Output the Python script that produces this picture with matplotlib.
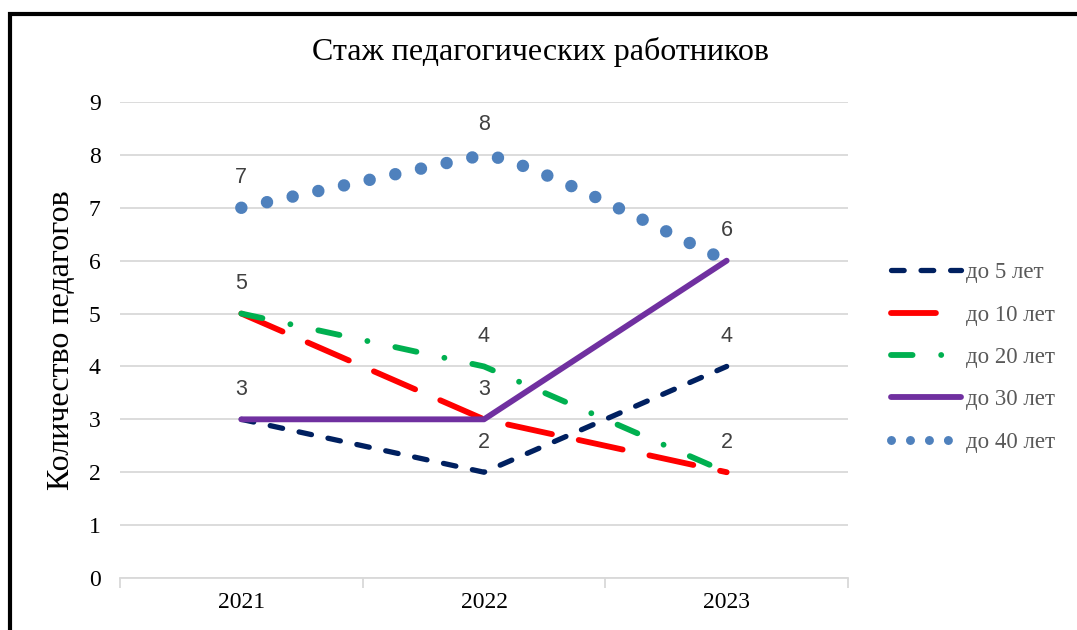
import matplotlib
matplotlib.use("Agg")
import matplotlib.pyplot as plt
from matplotlib.path import Path
from matplotlib.patches import PathPatch, Rectangle
from matplotlib.lines import Line2D

years = ["2021", "2022", "2023"]
series_names = ["до 5 лет", "до 10 лет", "до 20 лет", "до 30 лет", "до 40 лет"]
s5 = [3, 2, 4]
s10 = [5, 3, 2]
s20 = [5, 4, 2]
s30 = [3, 3, 6]
s40 = [7, 8, 6]
title = "Стаж педагогических работников"
ylabel = "Количество педагогов"
yticks = list(range(0, 10))

W, H = 1077, 630
fig = plt.figure(figsize=(W / 100, H / 100), dpi=100)
ax = fig.add_axes([120 / W, 1 - 578 / H, (848 - 120) / W, (578 - 102) / H])

serif = "Liberation Serif"
sans = "Liberation Sans"
x = list(range(len(years)))

styles = [
    dict(color="#002060", lw=3.8, ls=(0, (2.4, 3.2))),
    dict(color="#FF0000", lw=4.2, ls=(0, (7.7, 4.7))),
    dict(color="#00B050", lw=4.2, ls=(0, (3.7, 4.9, 0.01, 4.9))),
    dict(color="#7030A0", lw=4.2, ls="-"),
]
data = [s5, s10, s20, s30]
for vals, st in zip(data, styles):
    ax.plot(x, vals, color=st["color"], lw=st["lw"], linestyle=st["ls"],
            dash_capstyle="round", solid_capstyle="round", solid_joinstyle="round",
            zorder=3)

# smoothed line for s40 (Bezier through the data points)
pts = [(xi, yi) for xi, yi in zip(x, s40)]
verts = [pts[0]]
codes = [Path.MOVETO]
n = len(pts)
for i in range(n - 1):
    p0 = pts[i - 1] if i > 0 else pts[i]
    p1 = pts[i]
    p2 = pts[i + 1]
    p3 = pts[i + 2] if i + 2 < n else pts[i + 1]
    if i == 0:
        c1 = (p1[0] + (p2[0] - p1[0]) / 3, p1[1] + (p2[1] - p1[1]) / 3)
        c2 = (p2[0] - (p2[0] - p1[0]) / 3, p2[1] - (p2[1] - p1[1]) / 3)
    else:
        c1 = (p1[0] + (p2[0] - p0[0]) / 10, p1[1] + (p2[1] - p0[1]) / 10)
        c2 = (p2[0] - (p3[0] - p1[0]) / 6, p2[1] - (p3[1] - p1[1]) / 6)
    verts += [c1, c2, p2]
    codes += [Path.CURVE4] * 3
patch = PathPatch(Path(verts, codes), facecolor="none", edgecolor="#4F81BD",
                  lw=9.0, linestyle=(0, (0.001, 2.1)), capstyle="round", zorder=4)
ax.add_patch(patch)

# data labels (one per distinct value at each year)
for i in x:
    seen = set()
    for vals in [s5, s10, s20, s30, s40]:
        v = vals[i]
        if v in seen:
            continue
        seen.add(v)
        ax.annotate(str(v), (i, v), xytext=(0, 14), textcoords="offset points",
                    ha="center", va="bottom", fontsize=15.5, color="#404040",
                    family=sans, zorder=5)

ax.set_xlim(-0.5, len(years) - 0.5)
ax.set_ylim(0, 9)
ax.set_yticks(yticks)
ax.set_yticklabels([str(t) for t in yticks], family=serif, fontsize=17, color="#000000")
ax.set_xticks(x)
ax.set_xticklabels(years, family=serif, fontsize=17, color="#000000")
ax.set_xticks([-0.5, 0.5, 1.5, 2.5], minor=True)
ax.tick_params(axis="x", which="major", length=0, pad=10)
ax.tick_params(axis="x", which="minor", length=7, color="#D9D9D9", width=1.3)
ax.tick_params(axis="y", length=0, pad=14)
for s in ["top", "right", "left"]:
    ax.spines[s].set_visible(False)
ax.spines["bottom"].set_color("#D9D9D9")
ax.spines["bottom"].set_linewidth(1.3)
ax.grid(axis="y", color="#D9D9D9", lw=1.3)
ax.set_axisbelow(True)

fig.text(62 / W, 1 - 340 / H, ylabel, family=serif, fontsize=23, color="#000000",
         rotation=90, ha="center", va="center")
fig.text(541 / W, 1 - 52 / H, title, family=serif, fontsize=23, ha="center", va="center")

handles = []
for st in styles:
    handles.append(Line2D([], [], color=st["color"], lw=st["lw"], linestyle=st["ls"],
                          dash_capstyle="round", solid_capstyle="round"))
handles.append(Line2D([], [], color="#4F81BD", lw=6.5, linestyle=(0, (0.001, 2.1)),
                      dash_capstyle="round"))
leg_fs = 16.5
leg = fig.legend(handles, series_names, loc="upper left",
                 bbox_to_anchor=(882 / W, 1 - 253 / H), frameon=False,
                 prop=dict(family=serif, size=leg_fs), handlelength=70 / (leg_fs * 100 / 72),
                 handletextpad=0.2, labelspacing=0.93, borderaxespad=0)
for t in leg.get_texts():
    t.set_color("#595959")

# outer frame
fig.add_artist(Rectangle((10 / W, -0.1), 1.2, 1 - 13.5 / H + 0.1, transform=fig.transFigure,
                         fill=False, edgecolor="black", lw=3, zorder=10))

fig.savefig("out.png", dpi=100)
